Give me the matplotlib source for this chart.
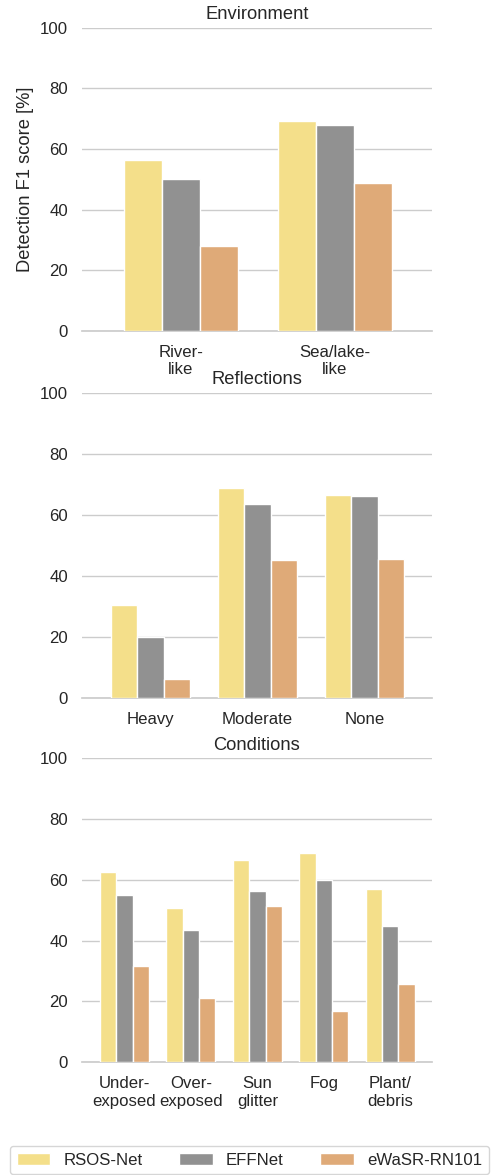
import numpy as np
import matplotlib
matplotlib.use("Agg")
import matplotlib.pyplot as plt

# Data
models = ["RSOS-Net", "EFFNet", "eWaSR-RN101"]
colours = ["#f4df8a", "#919191", "#dfaa78"]

env_labels = ["River-\nlike", "Sea/lake-\nlike"]
env_rsos = [56.3, 69.3]
env_eff = [50.1, 67.8]
env_ewasr = [27.9, 48.9]

refl_labels = ["Heavy", "Moderate", "None"]
refl_rsos = [30.5, 68.7, 66.4]
refl_eff = [19.9, 63.6, 66.1]
refl_ewasr = [6.1, 45.1, 45.6]

cond_labels = ["Under-\nexposed", "Over-\nexposed", "Sun\nglitter", "Fog", "Plant/\ndebris"]
cond_rsos = [62.4, 50.6, 66.5, 68.7, 56.8]
cond_eff = [55.1, 43.6, 56.2, 59.8, 44.7]
cond_ewasr = [31.5, 21.2, 51.4, 16.8, 25.6]

panels = [
    ("Environment", env_labels, [env_rsos, env_eff, env_ewasr]),
    ("Reflections", refl_labels, [refl_rsos, refl_eff, refl_ewasr]),
    ("Conditions", cond_labels, [cond_rsos, cond_eff, cond_ewasr]),
]

plt.rcParams["font.family"] = ["Liberation Sans", "DejaVu Sans"]
plt.rcParams["text.color"] = "#262626"
plt.rcParams["axes.labelcolor"] = "#262626"
plt.rcParams["xtick.color"] = "#262626"
plt.rcParams["ytick.color"] = "#262626"

fig = plt.figure(figsize=(4.93, 11.75), dpi=100)
W, H = 493, 1175
# axes boxes in pixels: (top, bottom)
boxes = [(27.7, 331.0), (392.7, 697.7), (758.0, 1062.3)]
left_px, right_px = 82, 432

group_w = 0.74
bar_w = group_w / 3

for i, ((title, labels, series), (top, bot)) in enumerate(zip(panels, boxes)):
    ax = fig.add_axes([left_px / W, 1 - bot / H, (right_px - left_px) / W, (bot - top) / H])
    x = np.arange(len(labels))
    for j, vals in enumerate(series):
        ax.bar(x + (j - 1) * bar_w, vals, width=bar_w, color=colours[j],
               edgecolor="white", linewidth=1, label=models[j], zorder=3)
    ax.set_xlim(-0.64, len(labels) - 1 + 0.63)
    ax.set_ylim(0, 100)
    ax.set_yticks([0, 20, 40, 60, 80, 100])
    ax.set_xticks(x)
    ax.set_xticklabels(labels)
    ax.tick_params(axis="both", length=0, pad=10, labelsize=12.1)
    ax.grid(axis="y", color="#cccccc", linewidth=1, zorder=0)
    ax.grid(axis="x", visible=False)
    for s in ["top", "right", "left"]:
        ax.spines[s].set_visible(False)
    ax.spines["bottom"].set_color("#cccccc")
    ax.spines["bottom"].set_linewidth(1.25)
    ax.set_title(title, fontsize=13.2)
    if i == 0:
        ax.set_ylabel("Detection F1 score [%]", fontsize=13.2)
        handles, lbls = ax.get_legend_handles_labels()

# Legend at the bottom
fig.legend(handles, lbls, loc="upper left", bbox_to_anchor=(10 / W, 1 - 1146 / H),
           ncol=3, fontsize=12.1, frameon=True, edgecolor="#cccccc",
           columnspacing=2.15, borderaxespad=0)

plt.savefig("out.png", dpi=100)
